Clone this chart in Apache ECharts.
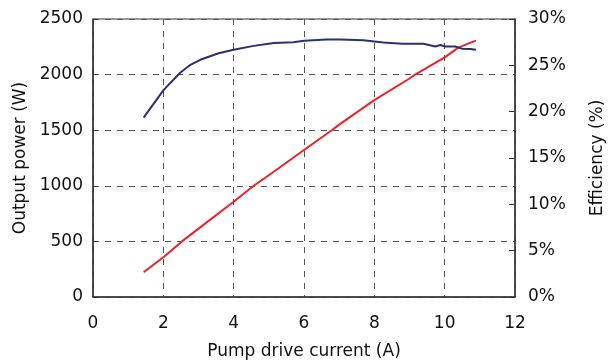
<!DOCTYPE html>
<html>
<head>
<meta charset="utf-8">
<script src="https://cdn.jsdelivr.net/npm/echarts@6/dist/echarts.min.js"></script>
<style>
  html, body { margin: 0; padding: 0; background: #fff; }
  #chart { width: 616px; height: 361px; }
</style>
</head>
<body>
<div id="chart"></div>
<script>
// output power (W) vs pump current (A), left axis
const powerCurrent = [1.44, 2.0, 2.53, 3.0, 4.0, 4.57, 5.0, 6.0, 6.79, 7.0, 8.0, 9.0, 9.16, 10.0, 10.4, 10.89];
const powerValues = [222, 357, 500, 615, 857, 1000, 1095, 1322, 1500, 1550, 1771, 1965, 2000, 2155, 2245, 2305];

// efficiency (%) vs pump current (A), right axis
const effCurrent = [1.44, 2.01, 2.48, 2.77, 3.05, 3.57, 4.0, 4.57, 5.14, 5.7, 6.0, 6.65, 7.03, 7.69, 8.26, 8.79, 9.4, 9.73, 9.88, 10.02, 10.3, 10.49, 10.73, 10.89];
const effValues = [19.36, 22.35, 24.2, 25.06, 25.6, 26.3, 26.68, 27.1, 27.4, 27.5, 27.65, 27.8, 27.8, 27.7, 27.47, 27.33, 27.33, 27.04, 27.2, 27.04, 27.04, 26.8, 26.75, 26.68];

const font = 'DejaVu Sans, sans-serif';
const textColor = '#111';
const dash = { type: [6, 6], color: '#555', width: 1 };

const chart = echarts.init(document.getElementById('chart'));

const option = {
  animation: false,
  grid: {
    left: 93,
    right: 101,
    top: 19,
    bottom: 64,
    show: true,
    borderColor: '#333',
    borderWidth: 1,
    outerBoundsMode: 'none'
  },
  xAxis: {
    type: 'value',
    min: 0,
    max: 12,
    interval: 2,
    name: 'Pump drive current (A)',
    nameLocation: 'middle',
    nameGap: 46,
    nameTextStyle: { fontFamily: font, fontSize: 17, color: textColor },
    axisLine: { lineStyle: { color: '#333', width: 1.5 } },
    axisTick: { show: false },
    axisLabel: { fontFamily: font, fontSize: 17, color: textColor, margin: 18 },
    splitLine: { show: true, lineStyle: dash }
  },
  yAxis: [
    {
      type: 'value',
      min: 0,
      max: 2500,
      interval: 500,
      name: 'Output power (W)',
      nameLocation: 'middle',
      nameRotate: 90,
      nameGap: 63,
      nameTextStyle: { fontFamily: font, fontSize: 17, color: textColor },
      axisLine: { show: true, lineStyle: { color: '#333', width: 1.5 } },
      axisTick: { show: true, inside: true, length: 5, lineStyle: { color: '#333' } },
      axisLabel: { fontFamily: font, fontSize: 17, color: textColor, margin: 10, formatter: v => String(v) },
      splitLine: { show: true, lineStyle: dash }
    },
    {
      type: 'value',
      min: 0,
      max: 30,
      interval: 5,
      name: 'Efficiency (%)',
      nameLocation: 'middle',
      nameRotate: 90,
      nameGap: 74,
      nameTextStyle: { fontFamily: font, fontSize: 17, color: textColor },
      axisLine: { show: true, lineStyle: { color: '#333', width: 1.5 } },
      axisTick: { show: true, inside: true, length: 6, lineStyle: { color: '#333' } },
      axisLabel: { fontFamily: font, fontSize: 17, color: textColor, margin: 13, formatter: '{value}%' },
      splitLine: { show: false }
    }
  ],
  series: [
    {
      name: 'Output power',
      type: 'line',
      yAxisIndex: 0,
      data: powerCurrent.map((x, i) => [x, powerValues[i]]),
      showSymbol: false,
      lineStyle: { color: '#ec2226', width: 2 },
      itemStyle: { color: '#ec2226' }
    },
    {
      name: 'Efficiency',
      type: 'line',
      yAxisIndex: 1,
      data: effCurrent.map((x, i) => [x, effValues[i]]),
      showSymbol: false,
      lineStyle: { color: '#2b3070', width: 2 },
      itemStyle: { color: '#2b3070' }
    }
  ]
};

chart.setOption(option);
</script>
</body>
</html>
